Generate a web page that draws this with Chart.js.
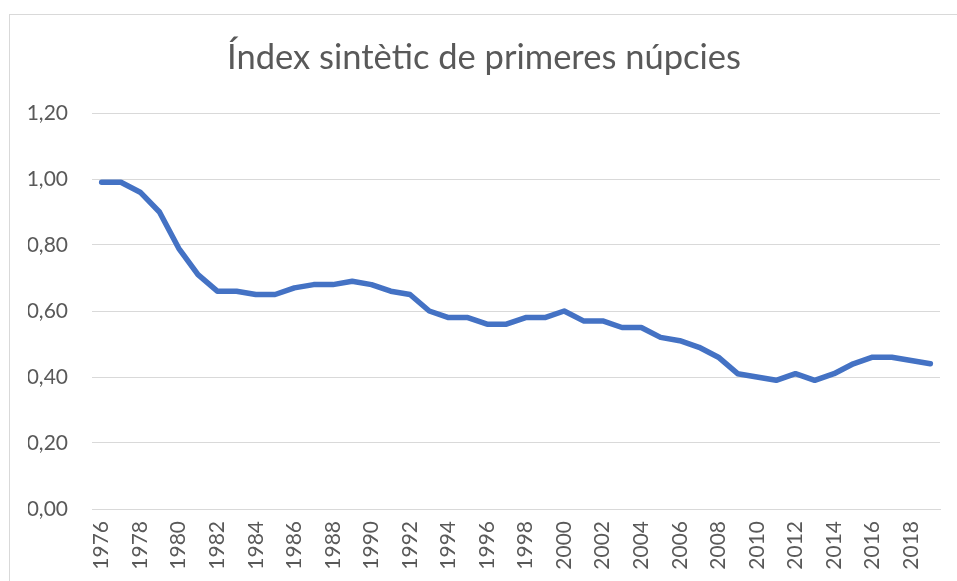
<!DOCTYPE html>
<html><head><meta charset="utf-8">
<script src="https://cdn.jsdelivr.net/npm/chart.js@4/dist/chart.umd.min.js"></script>
<style>
html,body{margin:0;padding:0;background:#fff;}
#wrap{position:relative;width:957px;height:581px;overflow:hidden;}
#frame{position:absolute;left:9px;top:14px;width:1000px;height:700px;border:1px solid #d9d9d9;box-sizing:border-box;pointer-events:none;}
canvas{position:absolute;left:0;top:0;}
</style></head>
<body><div id="wrap"><div id="frame"></div><canvas id="c" width="957" height="581"></canvas></div>
<script>
const title = "Índex sintètic de primeres núpcies";
const years = ["1976","1977","1978","1979","1980","1981","1982","1983","1984","1985","1986","1987","1988","1989","1990","1991","1992","1993","1994","1995","1996","1997","1998","1999","2000","2001","2002","2003","2004","2005","2006","2007","2008","2009","2010","2011","2012","2013","2014","2015","2016","2017","2018","2019"];
const values = [0.99,0.99,0.96,0.90,0.79,0.71,0.66,0.66,0.65,0.65,0.67,0.68,0.68,0.69,0.68,0.66,0.65,0.60,0.58,0.58,0.56,0.56,0.58,0.58,0.60,0.57,0.57,0.55,0.55,0.52,0.51,0.49,0.46,0.41,0.40,0.39,0.41,0.39,0.41,0.44,0.46,0.46,0.45,0.44];
const yTicks = [0,0.2,0.4,0.6,0.8,1.0,1.2];

const FONT = "Lato, 'Open Sans', sans-serif";
new Chart(document.getElementById('c'), {
  type: 'line',
  data: { labels: years, datasets: [{ data: values, borderColor: '#4472C4', borderWidth: 5.5, pointRadius: 0, tension: 0, borderCapStyle: 'round', borderJoinStyle: 'round', fill: false }] },
  options: {
    responsive: false, animation: false,
    layout: { padding: { top: 37, left: 28, right: 17, bottom: 0 } },
    plugins: {
      legend: { display: false }, tooltip: { enabled: false },
      title: { display: true, text: title, color: '#595959', font: { family: FONT, size: 34.5, weight: 'normal' }, padding: { top: 0, bottom: 34.6 } }
    },
    scales: {
      x: {
        offset: true,
        grid: { display: false, drawTicks: false },
        border: { display: true, color: '#d9d9d9', width: 1 },
        ticks: { autoSkip: false, minRotation: 90, maxRotation: 90, color: '#595959', font: { family: FONT, size: 21 }, padding: 12,
          callback: function(v, i) { return i % 2 === 0 ? years[i] : ''; } },
        afterFit: function(s) { s.height = 581 - 509; s.paddingRight = 0; s.paddingLeft = 0; }
      },
      y: {
        min: 0, max: 1.2,
        afterBuildTicks: function(s) { s.ticks = yTicks.map(v => ({ value: v })); },
        grid: { color: '#d9d9d9', lineWidth: 1, drawTicks: false },
        border: { display: false },
        ticks: { color: '#595959', font: { family: FONT, size: 21 }, padding: 24,
          callback: v => v.toFixed(2).replace('.', ',') },
        afterFit: function(s) { s.width = 64; }
      }
    }
  }
});
</script></body></html>
